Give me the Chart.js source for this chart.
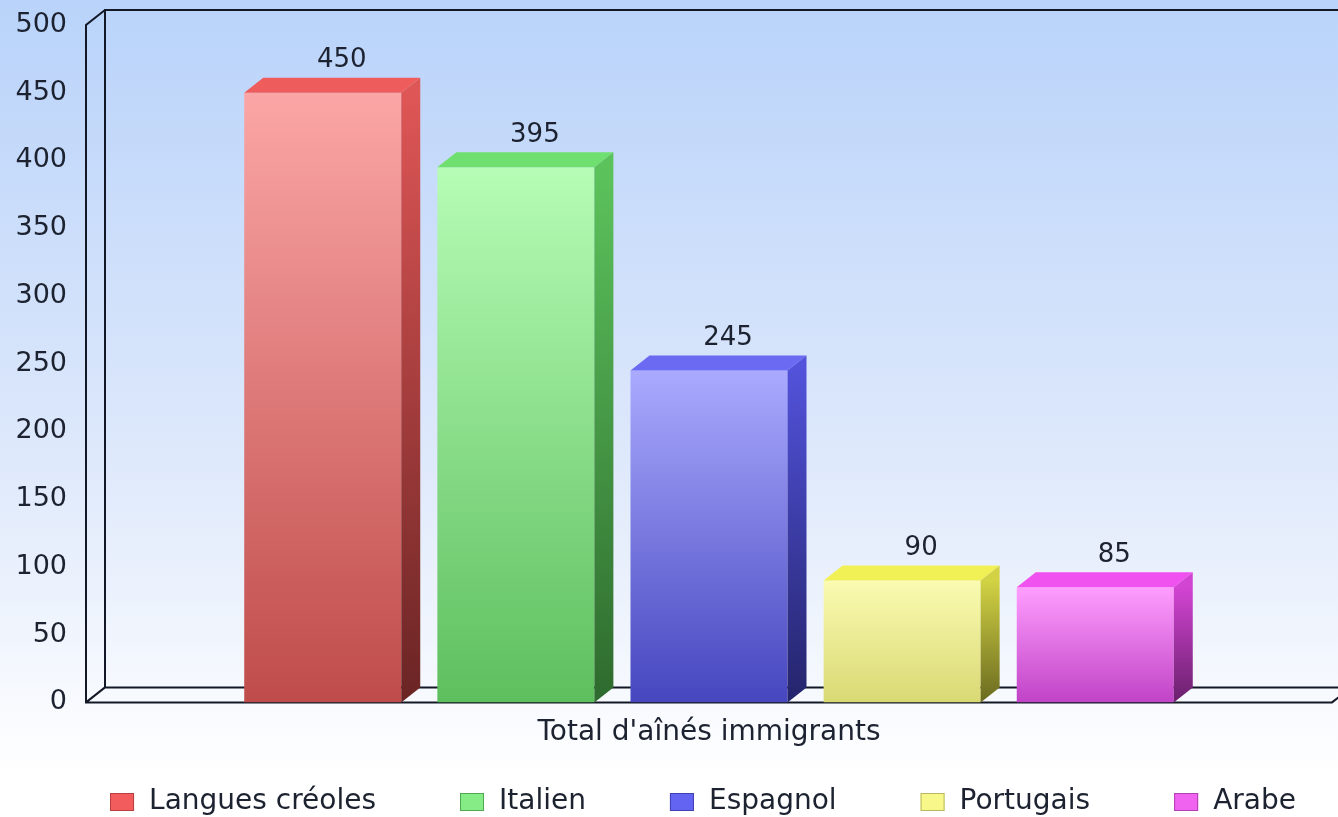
<!DOCTYPE html>
<html>
<head>
<meta charset="utf-8">
<script src="https://cdn.jsdelivr.net/npm/chart.js@4/dist/chart.umd.min.js"></script>
<style>
  html, body { margin: 0; padding: 0; background: #fff; }
  #wrap { width: 1338px; height: 817px; }
</style>
</head>
<body>
<div id="wrap"><canvas id="chart"></canvas></div>
<script>
const categories = ["Total d'aînés immigrants"];
const seriesNames = ['Langues créoles', 'Italien', 'Espagnol', 'Portugais', 'Arabe'];
const seriesValues = [450, 395, 245, 90, 85];
const yMin = 0, yMax = 500, yStep = 50;

// front face top/bottom, top face, side face top/bottom, legend fill/border
const frontTop    = ['#fba6a6', '#b6fcb6', '#aaaaff', '#fbfbb2', '#ff9eff'];
const frontBottom = ['#bf4c4a', '#5ebf5e', '#4646bf', '#d9d974', '#c043c6'];
const topFace     = ['#ef5c5c', '#6fe06f', '#6a6af2', '#f1f156', '#f052f0'];
const sideTop     = ['#df5656', '#5cc35c', '#5252da', '#d2d244', '#d244d2'];
const sideBottom  = ['#6a2424', '#2e6a2e', '#24246c', '#6a6a20', '#6a206c'];
const legendFill  = ['#f25c5c', '#86ec86', '#6464f2', '#f8f88a', '#f062f0'];
const legendLine  = ['#b84040', '#50a850', '#4040b0', '#b8b860', '#b040b0'];

const DX = 19, DY = 15;
const TEXT = '#1c2230';
const FONT = "'DejaVu Sans', sans-serif";

function frontGradient(c, i) {
  const chart = c.chart;
  if (!chart.chartArea) return frontBottom[i];
  const y = chart.scales.y;
  const top = y.getPixelForValue(seriesValues[i]);
  const base = y.getPixelForValue(0);
  const g = chart.ctx.createLinearGradient(0, top, 0, base);
  g.addColorStop(0, frontTop[i]);
  g.addColorStop(1, frontBottom[i]);
  return g;
}

const backgroundPlugin = {
  id: 'bg',
  beforeDraw(chart) {
    const { ctx, width, height } = chart;
    const g = ctx.createLinearGradient(0, 0, 0, height);
    g.addColorStop(0, '#b9d3fa');
    g.addColorStop(0.55, '#dde8fb');
    g.addColorStop(0.95, '#ffffff');
    ctx.save();
    ctx.fillStyle = g;
    ctx.fillRect(0, 0, width, height);
    ctx.restore();
  }
};

const framePlugin = {
  id: 'frame',
  beforeDatasetsDraw(chart) {
    const { ctx, chartArea: a } = chart;
    const L = a.left, R = a.right, T = a.top, B = a.bottom;
    ctx.save();
    ctx.strokeStyle = '#121826';
    ctx.lineWidth = 2;
    ctx.beginPath();
    // back wall
    ctx.moveTo(R + DX, T - DY); ctx.lineTo(L + DX, T - DY); ctx.lineTo(L + DX, B - DY); ctx.lineTo(R + DX, B - DY);
    // front edges
    ctx.moveTo(L + DX, T - DY); ctx.lineTo(L, T); ctx.lineTo(L, B); ctx.lineTo(R, B); ctx.lineTo(R + DX, B - DY);
    ctx.moveTo(L, B); ctx.lineTo(L + DX, B - DY);
    ctx.stroke();
    ctx.restore();
  }
};

const bar3dPlugin = {
  id: 'bar3d',
  afterDatasetsDraw(chart) {
    const ctx = chart.ctx;
    chart.data.datasets.forEach((ds, i) => {
      const meta = chart.getDatasetMeta(i);
      meta.data.forEach(el => {
        const { x, y, base, width } = el.getProps(['x', 'y', 'base', 'width'], true);
        const l = x - width / 2, r = x + width / 2;
        ctx.save();
        // top face
        ctx.fillStyle = topFace[i];
        ctx.beginPath();
        ctx.moveTo(l, y); ctx.lineTo(l + DX, y - DY); ctx.lineTo(r + DX, y - DY); ctx.lineTo(r, y);
        ctx.closePath(); ctx.fill();
        // side face
        const g = ctx.createLinearGradient(0, y, 0, base);
        g.addColorStop(0, sideTop[i]);
        g.addColorStop(1, sideBottom[i]);
        ctx.fillStyle = g;
        ctx.beginPath();
        ctx.moveTo(r, y); ctx.lineTo(r + DX, y - DY); ctx.lineTo(r + DX, base - DY); ctx.lineTo(r, base);
        ctx.closePath(); ctx.fill();
        // value label
        ctx.fillStyle = TEXT;
        ctx.font = '26px ' + FONT;
        ctx.textAlign = 'center';
        ctx.textBaseline = 'middle';
        ctx.fillText(String(ds.data[0]), x + DX, y - DY - 17);
        ctx.restore();
      });
    });
  },
  afterDraw(chart) {
    // legend row
    const ctx = chart.ctx;
    const a = chart.chartArea;
    const boxW = 24, boxH = 18, textGap = 15, itemGap = 84, cy = 802;
    ctx.save();
    ctx.font = '28px ' + FONT;
    ctx.textBaseline = 'middle';
    const widths = seriesNames.map(n => boxW + textGap + ctx.measureText(n).width);
    const total = widths.reduce((s, w) => s + w, 0) + itemGap * (widths.length - 1);
    let x = (a.left + a.right) / 2 - 6 - total / 2;
    seriesNames.forEach((n, i) => {
      ctx.fillStyle = legendFill[i];
      ctx.fillRect(x, cy - boxH / 2, boxW, boxH);
      ctx.strokeStyle = legendLine[i];
      ctx.lineWidth = 1;
      ctx.strokeRect(x + 0.5, cy - boxH / 2 + 0.5, boxW - 1, boxH - 1);
      ctx.fillStyle = TEXT;
      ctx.textAlign = 'left';
      ctx.fillText(n, x + boxW + textGap, cy);
      x += widths[i] + itemGap;
    });
    ctx.restore();
  }
};

Chart.defaults.font.family = FONT;
Chart.defaults.color = TEXT;

new Chart(document.getElementById('chart'), {
  type: 'bar',
  data: {
    labels: categories,
    datasets: seriesNames.map((name, i) => ({
      label: name,
      data: [seriesValues[i]],
      backgroundColor: c => frontGradient(c, i),
      borderWidth: 0,
      barPercentage: 0.813,
      categoryPercentage: 0.775,
    })),
  },
  options: {
    responsive: true,
    maintainAspectRatio: false,
    animation: false,
    layout: { autoPadding: false, padding: { top: 25, right: 6, bottom: 53, left: 0 } },
    plugins: {
      legend: { display: false },
      tooltip: { enabled: false },
    },
    scales: {
      y: {
        min: yMin,
        max: yMax,
        grid: { display: false, drawTicks: false },
        border: { display: false },
        ticks: { stepSize: yStep, padding: 19, color: TEXT, font: { size: 27 } },
        afterFit(scale) {
          scale.width = 86;
          // tick padding would otherwise push the plot top down
          scale.paddingTop = 0;
          scale.paddingBottom = 0;
        },
      },
      x: {
        grid: { display: false, drawTicks: false },
        border: { display: false },
        ticks: { padding: 14, color: TEXT, font: { size: 28 } },
      },
    },
  },
  plugins: [backgroundPlugin, framePlugin, bar3dPlugin],
});
</script>
</body>
</html>
